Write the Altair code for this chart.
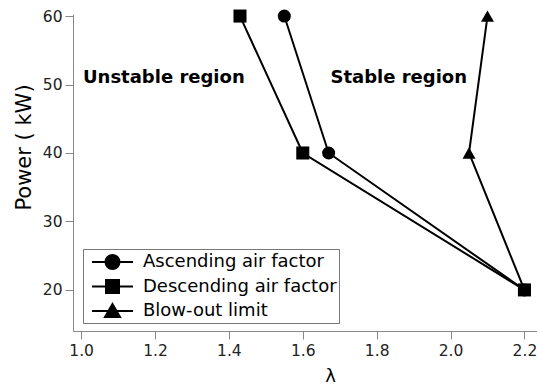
import altair as alt
import pandas as pd

# ---- data ----
series_names = ["Ascending air factor", "Descending air factor", "Blow-out limit"]
power_kw = [60, 40, 20]
lambda_ascending = [1.55, 1.67, 2.20]
lambda_descending = [1.43, 1.60, 2.20]
lambda_blowout = [2.10, 2.05, 2.20]

x_ticks = [1.0, 1.2, 1.4, 1.6, 1.8, 2.0, 2.2]
y_ticks = [20, 30, 40, 50, 60]

region_labels = ["Unstable region", "Stable region"]
region_lambda = [1.005, 1.675]
region_power = [51, 51]

rows = []
for name, xs in zip(series_names, [lambda_ascending, lambda_descending, lambda_blowout]):
    for i, (lx, p) in enumerate(zip(xs, power_kw)):
        rows.append({"series": name, "lam": lx, "power": p, "idx": i})
df = pd.DataFrame(rows)
ann = pd.DataFrame({"label": region_labels, "lam": region_lambda, "power": region_power})

FONT = "DejaVu Sans"

x_scale = alt.Scale(domain=[0.978, 2.234], nice=False, zero=False)
y_scale = alt.Scale(domain=[14.0, 60.3], nice=False, zero=False)

x_enc = alt.X("lam:Q", scale=x_scale,
              axis=alt.Axis(values=x_ticks, format=".1f", title="λ", grid=False,
                            titleX=257, titleY=36, titleBaseline="top"))
y_enc = alt.Y("power:Q", scale=y_scale,
              axis=alt.Axis(values=y_ticks, format="d", title="Power ( kW)", grid=False,
                            titleX=-39, titleY=133, titleBaseline="bottom"))

base = alt.Chart(df)

lines = base.mark_line(color="black", strokeWidth=2).encode(
    x=x_enc, y=y_enc, detail="series:N", order="idx:Q"
)

points = base.mark_point(filled=True, color="black", opacity=1, size=170).encode(
    x="lam:Q", y="power:Q",
    shape=alt.Shape("series:N", scale=alt.Scale(domain=series_names,
                                                 range=["circle", "square", "triangle-up"]),
                    legend=None),
)

legend_paths = [
    "M-2.05,0H2.05M-0.7,0A0.7,0.7,0,1,1,0.7,0A0.7,0.7,0,1,1,-0.7,0Z",
    "M-2.05,0H2.05M-0.65,-0.65H0.65V0.65H-0.65Z",
    "M-2.05,0H2.05M0,-0.7L0.75,0.6H-0.75Z",
]

legend_layer = base.transform_filter("false").mark_point(
    filled=True, fill="black", stroke="black", strokeWidth=2, opacity=1
).encode(
    x="lam:Q", y="power:Q",
    shape=alt.Shape("series:N",
                    scale=alt.Scale(domain=series_names, range=legend_paths),
                    legend=alt.Legend(title=None, orient="none", legendX=10, legendY=235,
                                      symbolSize=400, symbolStrokeWidth=2,
                                      symbolOpacity=1, symbolOffset=16.5, labelOffset=19.5,
                                      labelFontSize=18, labelFont=FONT, labelColor="black",
                                      labelExpr="datum.label + '\u00a0'",
                                      padding=2, rowPadding=2.5, strokeColor="#777",
                                      fillColor="white", labelLimit=400)),
)

texts = alt.Chart(ann).mark_text(align="left", baseline="middle", font=FONT,
                                 fontSize=18, fontWeight="bold", color="black").encode(
    x="lam:Q", y="power:Q", text="label:N"
)

chart = alt.layer(lines, points, legend_layer, texts).resolve_scale(
    shape="independent"
).properties(
    width=464, height=317,
    padding={"left": 73, "top": 14, "right": 0, "bottom": 54},
    autosize=alt.AutoSizeParams(type="none"),
).configure_view(stroke=None).configure_axis(
    domainColor="#888", tickColor="#888", tickSize=8, labelFont=FONT, labelFontSize=15.5,
    labelColor="#222", titleFont=FONT, titleFontWeight="normal", titleColor="black",
    labelPadding=4,
).configure_axisX(titleFontSize=18).configure_axisY(titleFontSize=21, labelPadding=3)

chart.save("out.html", embed_options={"renderer": "svg", "actions": False})
